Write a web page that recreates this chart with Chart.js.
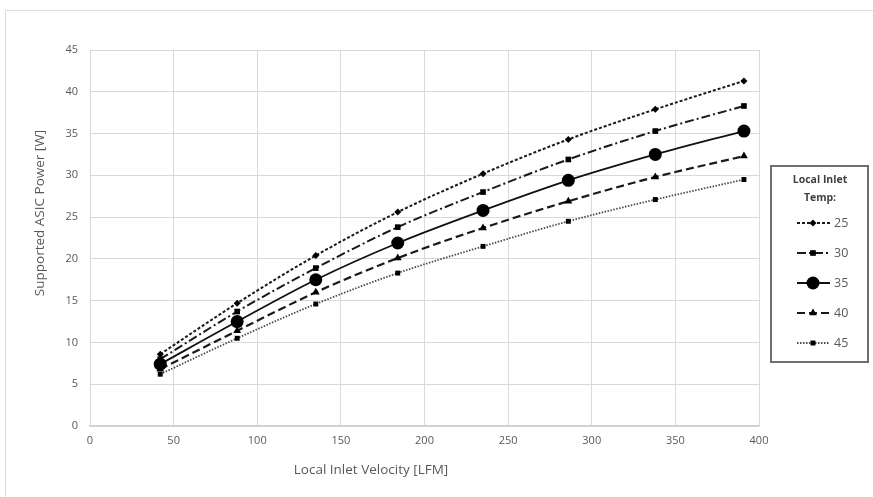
<!DOCTYPE html>
<html>
<head>
<meta charset="utf-8">
<script src="https://cdn.jsdelivr.net/npm/chart.js@4.4.1/dist/chart.umd.min.js"></script>
<style>
    html, body { margin: 0; padding: 0; background: #fff; }
    #wrap { position: relative; width: 873px; height: 497px; overflow: hidden; }
    #frame { position: absolute; left: 5px; top: 10px; width: 880px; height: 500px; border-left: 1px solid #dcdcdc; border-top: 1px solid #dcdcdc; }
    #chart { position: absolute; left: 0; top: 0; }
</style>
</head>
<body>
<div id="wrap">
    <div id="frame"></div>
    <canvas id="chart" width="873" height="497"></canvas>
</div>
<script>
const velocity = [42, 88, 135, 184, 235, 286, 338, 391];
const temps = ['25', '30', '35', '40', '45'];
const power25 = [8.6, 14.7, 20.4, 25.6, 30.2, 34.3, 37.9, 41.3];
const power30 = [8.0, 13.7, 18.9, 23.8, 28.0, 31.9, 35.3, 38.3];
const power35 = [7.4, 12.5, 17.5, 21.9, 25.8, 29.4, 32.5, 35.3];
const power40 = [6.8, 11.4, 16.0, 20.1, 23.7, 26.9, 29.8, 32.3];
const power45 = [6.2, 10.5, 14.6, 18.3, 21.5, 24.5, 27.1, 29.5];
const xTicks = [0, 50, 100, 150, 200, 250, 300, 350, 400];
const yTicks = [0, 5, 10, 15, 20, 25, 30, 35, 40, 45];

const FONT = '"Open Sans", "Liberation Sans", sans-serif';
const GREY = '#595959';

const series = [power25, power30, power35, power40, power45];
const styles = [
    { dash: [3, 2], point: 'rectRot', r: 3.5, width: 2, color: '#1a1a1a' },
    { dash: [9, 3, 2, 3], point: 'rect', r: 4, width: 2, color: '#1a1a1a' },
    { dash: [], point: 'circle', r: 6.5, width: 1.8, color: '#111' },
    { dash: [8, 4], point: 'triangle', r: 4.5, width: 2.2, color: '#1a1a1a' },
    { dash: [1.5, 1.5], point: 'rect', r: 3.5, width: 1.8, color: '#4a4a4a' }
];

const datasets = series.map((vals, i) => ({
    label: temps[i],
    data: vals.map((v, k) => ({ x: velocity[k], y: v })),
    showLine: true,
    borderColor: styles[i].color,
    backgroundColor: '#000',
    borderWidth: styles[i].width,
    borderDash: styles[i].dash,
    pointStyle: styles[i].point,
    pointRadius: styles[i].r,
    pointBackgroundColor: '#000',
    pointBorderColor: '#000',
    pointBorderWidth: 0,
    tension: 0.35,
    cubicInterpolationMode: 'monotone'
}));

// legend box + axis titles drawn on the canvas
const extras = {
    id: 'extras',
    afterDraw(chart) {
        const ctx = chart.ctx;
        ctx.save();
        // axis titles
        ctx.fillStyle = GREY;
        ctx.font = '13.5px ' + FONT;
        ctx.textAlign = 'center';
        ctx.textBaseline = 'middle';
        ctx.fillText('Local Inlet Velocity [LFM]', 371, 470);
        ctx.save();
        ctx.translate(40, 213);
        ctx.rotate(-Math.PI / 2);
        ctx.fillText('Supported ASIC Power [W]', 0, 0);
        ctx.restore();

        // legend
        ctx.strokeStyle = '#6e6e6e';
        ctx.lineWidth = 2;
        ctx.strokeRect(771, 166, 97, 196);
        ctx.fillStyle = '#404040';
        ctx.font = 'bold 10.5px ' + FONT;
        ctx.fillText('Local Inlet', 820, 180);
        ctx.fillText('Temp:', 820, 198);
        chart.data.datasets.forEach((ds, i) => {
            const y = 223 + i * 30;
            ctx.save();
            ctx.strokeStyle = ds.borderColor;
            ctx.lineWidth = ds.borderWidth;
            ctx.setLineDash(ds.borderDash);
            ctx.beginPath();
            ctx.moveTo(797, y);
            ctx.lineTo(830, y);
            ctx.stroke();
            ctx.setLineDash([]);
            ctx.fillStyle = '#000';
            ctx.strokeStyle = '#000';
            Chart.helpers.drawPoint(ctx, {
                pointStyle: ds.pointStyle, radius: ds.pointRadius, rotation: 0, borderWidth: 0
            }, 813, y);
            ctx.restore();
            ctx.fillStyle = GREY;
            ctx.font = '12.5px ' + FONT;
            ctx.textAlign = 'left';
            ctx.fillText(ds.label, 834, y);
            ctx.textAlign = 'center';
        });
        ctx.restore();
    }
};

new Chart(document.getElementById('chart'), {
    type: 'scatter',
    data: { datasets: datasets },
    options: {
        responsive: false,
        animation: false,
        layout: { padding: { left: 0, right: 114, top: 50, bottom: 0 } },
        plugins: {
            legend: { display: false },
            tooltip: { enabled: false }
        },
        scales: {
            x: {
                type: 'linear',
                min: 0,
                max: 400,
                afterBuildTicks: s => { s.ticks = xTicks.map(v => ({ value: v })); },
                afterFit: s => { s.height = 71; },
                grid: { color: '#d9d9d9', lineWidth: 1, drawTicks: false },
                border: { color: '#d0d0d0', width: 1.5 },
                ticks: { color: GREY, font: { family: FONT, size: 11 }, padding: 8 }
            },
            y: {
                min: 0,
                max: 45,
                afterBuildTicks: s => { s.ticks = yTicks.map(v => ({ value: v })); },
                afterFit: s => { s.width = 90; },
                grid: { color: '#d9d9d9', lineWidth: 1, drawTicks: false },
                border: { display: false },
                ticks: { color: GREY, font: { family: FONT, size: 11 }, padding: 12 }
            }
        }
    },
    plugins: [extras]
});
</script>
</body>
</html>
